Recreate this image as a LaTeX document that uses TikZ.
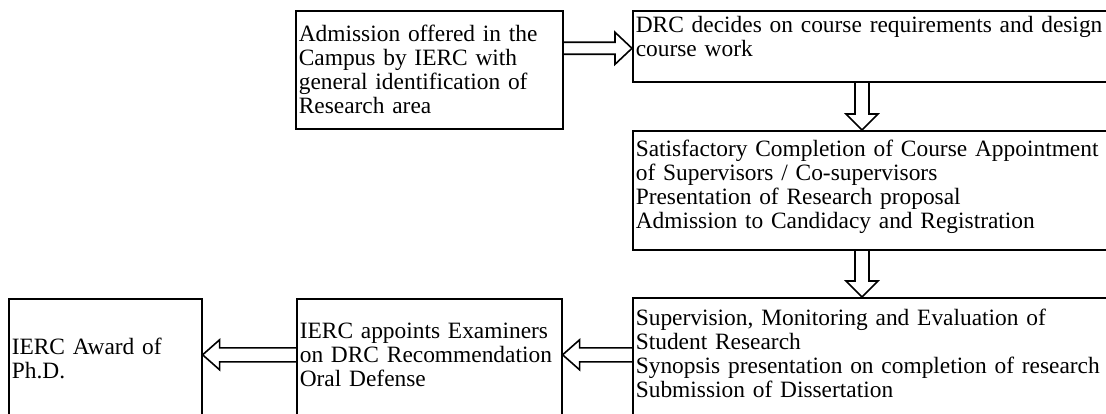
\documentclass[tikz,border=0pt]{standalone}
\usepackage{fontspec}
\setmainfont{Liberation Serif}
\usetikzlibrary{calc}

\tikzset{
  box/.style={draw, line width=1.6pt, anchor=north west, inner xsep=3pt,
    inner ysep=0pt, align=left, font=\fontsize{23.4}{24}\selectfont},
  hollow/.style={draw, line width=1.6pt, line join=miter}
}

% lifts the text of a box a little
\newcommand\lift[1]{\\[#1]\mbox{}}

% fat hollow arrows: #1 start, #2 tip
\newcommand\rightarr[2]{%
  \draw[hollow] let \p1=(#1), \p2=(#2) in
    (\x1,\y2+6pt) -- (\x2-17pt,\y2+6pt) -- (\x2-17pt,\y2+16pt) -- (\x2,\y2)
    -- (\x2-17pt,\y2-16pt) -- (\x2-17pt,\y2-6pt) -- (\x1,\y2-6pt);}
\newcommand\leftarr[2]{%
  \draw[hollow] let \p1=(#1), \p2=(#2) in
    (\x1,\y2+7pt) -- (\x2+17pt,\y2+7pt) -- (\x2+17pt,\y2+15pt) -- (\x2,\y2)
    -- (\x2+17pt,\y2-15pt) -- (\x2+17pt,\y2-7pt) -- (\x1,\y2-7pt);}
\newcommand\downarr[2]{%
  \draw[hollow] let \p1=(#1), \p2=(#2) in
    (\x2-7pt,\y1) -- (\x2-7pt,\y2+16pt) -- (\x2-16pt,\y2+16pt) -- (\x2,\y2)
    -- (\x2+16pt,\y2+16pt) -- (\x2+7pt,\y2+16pt) -- (\x2+7pt,\y1);}

\begin{document}
\begin{tikzpicture}[x=1pt,y=-1pt]
            \useasboundingbox (0,0) rectangle (1106,414);
            \clip (0,0) rectangle (1106,414);

            % top row
            \node[box, text width=261pt, minimum height=118pt] (adm) at (295,10)
              {Admission offered in the\\Campus by IERC with\\general identification of\\Research area};
            \node[box, text width=500pt, minimum height=71pt] (drc) at (632,10)
              {DRC decides on course requirements and design\\course work\lift{-5pt}};

            % middle
            \node[box, text width=500pt, minimum height=119pt] (crs) at (632,130)
              {Satisfactory Completion of Course Appointment\\of Supervisors / Co-supervisors\\Presentation of Research proposal\\Admission to Candidacy and Registration\lift{-11pt}};

            % bottom row
            \node[box, text width=500pt, minimum height=121pt] (sup) at (632,297)
              {Supervision, Monitoring and Evaluation of\\Student Research\\Synopsis presentation on completion of research\\Submission of Dissertation\lift{-14pt}};
            \node[box, text width=259pt, minimum height=120pt] (exam) at (296,298)
              {IERC appoints Examiners\\on DRC Recommendation\\Oral Defense\lift{-15pt}};
            \node[box, text width=187pt, minimum height=120pt] (award) at (8,298)
              {IERC Award of\\Ph.D.};

            \coordinate (col) at ($(drc.south west)+(230,0)$);

            \rightarr{adm.east}{$(drc.west)+(0,2)$}
            \downarr{col}{crs.north -| col}
            \downarr{crs.south -| col}{sup.north -| col}
            \leftarr{sup.west}{$(exam.east)+(0,-4)$}
            \leftarr{exam.west}{$(award.east)+(0,-4)$}
\end{tikzpicture}
\end{document}
